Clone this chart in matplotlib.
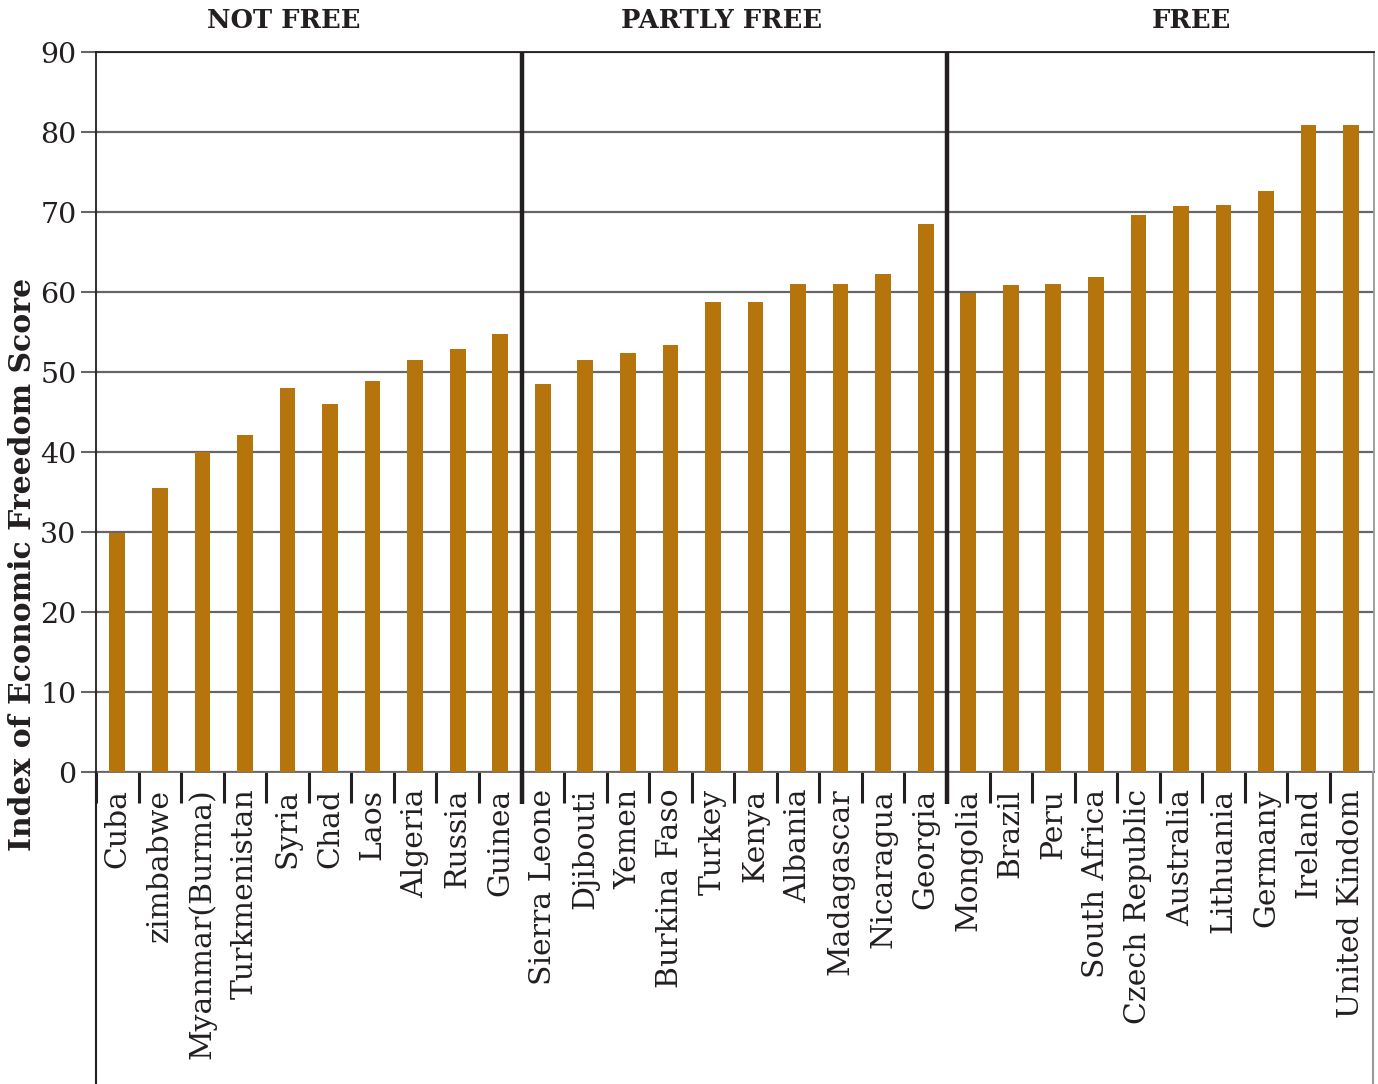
import matplotlib
matplotlib.use('Agg')
import matplotlib.pyplot as plt
import numpy as np

# Data
countries = ['Cuba', 'zimbabwe', 'Myanmar(Burma)', 'Turkmenistan', 'Syria', 'Chad', 'Laos',
             'Algeria', 'Russia', 'Guinea',
             'Sierra Leone', 'Djibouti', 'Yemen', 'Burkina Faso', 'Turkey', 'Kenya', 'Albania',
             'Madagascar', 'Nicaragua', 'Georgia',
             'Mongolia', 'Brazil', 'Peru', 'South Africa', 'Czech Republic', 'Australia',
             'Lithuania', 'Germany', 'Ireland', 'United Kindom']
scores = [29.9, 35.5, 40.0, 42.1, 48.0, 46.0, 48.9, 51.5, 52.9, 54.7,
          48.5, 51.5, 52.4, 53.4, 58.7, 58.7, 61.0, 61.0, 62.2, 68.5,
          59.9, 60.9, 61.0, 61.9, 69.6, 70.8, 70.9, 72.6, 80.9, 80.9]
groups = ['NOT FREE', 'PARTLY FREE', 'FREE']
group_sizes = [10, 10, 10]
y_ticks = [0, 10, 20, 30, 40, 50, 60, 70, 80, 90]

BAR_COLOR = '#B5750C'
GRID_COLOR = '#666666'
DARK = '#231F20'

plt.rcParams['font.family'] = ['DejaVu Serif']

fig = plt.figure(figsize=(13.78, 10.84), dpi=100)
ax = fig.add_axes([0.0697, 0.2878, 0.9275, 0.6642])

x = np.arange(len(countries))
ax.bar(x, scores, width=0.37, color=BAR_COLOR, zorder=3)

ax.set_xlim(-0.42, len(countries) - 0.46)
ax.set_ylim(0, 90)

# horizontal grid
ax.set_yticks(y_ticks)
ax.set_yticklabels([str(v) for v in y_ticks], fontsize=20.5, color=DARK)
ax.yaxis.grid(True, color=GRID_COLOR, linewidth=1.6, zorder=1)
ax.tick_params(axis='y', direction='out', length=11, width=1.5, color=GRID_COLOR, pad=3)

# category labels and separating ticks
ax.set_xticks(x)
ax.set_xticklabels(countries, rotation=90, fontsize=21.5, color=DARK, va='top', ha='center')
ax.tick_params(axis='x', which='major', length=0, pad=12)
ax.set_xticks(np.arange(-0.5, len(countries) - 1, 1), minor=True)
ax.tick_params(axis='x', which='minor', direction='out', length=22, width=2.2, color=DARK)

for side in ['left', 'right', 'bottom', 'top']:
    ax.spines[side].set_linewidth(1.3)
ax.spines['top'].set_color(DARK)
ax.spines['left'].set_color(DARK)
ax.spines['bottom'].set_color(GRID_COLOR)
ax.spines['right'].set_color('#999999')

# left and right frame lines run down through the label area
for xpos, col in [(ax.get_xlim()[0], DARK), (ax.get_xlim()[1] - 0.02, '#999999')]:
    ax.plot([xpos, xpos], [0, -39], color=col, linewidth=1.5, clip_on=False, zorder=4)

# group separators
bounds = np.cumsum(group_sizes)[:-1] - 0.5
for b in bounds:
    ax.plot([b, b], [-4, 90], color=DARK, linewidth=3.2, clip_on=False, zorder=5,
            solid_capstyle='butt')

# group headers
header_pos = [3.9, 14.2, 25.25]
for name, xp in zip(groups, header_pos):
    ax.text(xp, 92.4, name, ha='center', va='bottom', fontsize=18.5, fontweight='bold',
            color=DARK)

fig.text(0.016, 0.479, 'Index of Economic Freedom Score', rotation=90, ha='center',
         va='center', fontsize=21.5, fontweight='bold', color=DARK)

fig.savefig('out.png', dpi=100, facecolor='white')
